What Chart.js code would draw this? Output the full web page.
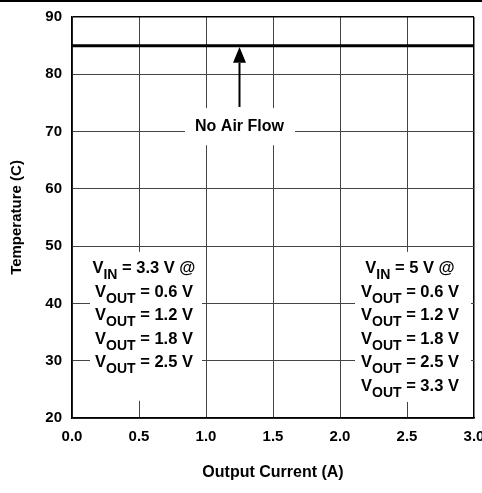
<!DOCTYPE html>
<html>
<head>
<meta charset="utf-8">
<script src="https://cdn.jsdelivr.net/npm/chart.js@4/dist/chart.umd.min.js"></script>
<style>
    html, body { margin: 0; padding: 0; background: #fff; }
    canvas { display: block; }
</style>
</head>
<body>
<canvas id="tempChart" width="482" height="493"></canvas>
<script>
// ticks
const xTicks = [0, 0.5, 1.0, 1.5, 2.0, 2.5, 3.0];
const xTickLabels = ['0.0', '0.5', '1.0', '1.5', '2.0', '2.5', '3.0'];
const yTicks = [20, 30, 40, 50, 60, 70, 80, 90];

// ambient temperature limit, no air flow (flat over the whole range)
const limitCurrent = [0, 3.0];
const limitTemp = [85, 85];

// arrow from the label up to the limit line
const arrowCurrent = [1.25, 1.25];
const arrowTemp = [74.3, 82];
const arrowTipTemp = 84.75;

// notes: [main, subscript, rest]
const noteNoAir = 'No Air Flow';
const notesVin33 = [
    ['V', 'IN', ' = 3.3 V @'],
    ['V', 'OUT', ' = 0.6 V'],
    ['V', 'OUT', ' = 1.2 V'],
    ['V', 'OUT', ' = 1.8 V'],
    ['V', 'OUT', ' = 2.5 V']
];
const notesVin5 = [
    ['V', 'IN', ' = 5 V @'],
    ['V', 'OUT', ' = 0.6 V'],
    ['V', 'OUT', ' = 1.2 V'],
    ['V', 'OUT', ' = 1.8 V'],
    ['V', 'OUT', ' = 2.5 V'],
    ['V', 'OUT', ' = 3.3 V']
];

const FONT = "'Liberation Sans', Arial, Helvetica, sans-serif";

// where the notes sit (data units) and the white box behind each one
const noteLayout = [
    { lines: notesVin33, x: 0.537, y: 45.3, box: [0.134, 0.97, 23, 49] },
    { lines: notesVin5, x: 2.522, y: 45.3, box: [2.112, 2.978, 22.8, 49] }
];
const noAirLayout = { x: 1.25, y: 70.1, box: [0.843, 1.664, 67.6, 74.1] };

const notePlugin = {
    id: 'notes',
    afterDatasetsDraw(chart) {
        const c = chart.ctx;
        const xs = chart.scales.x, ys = chart.scales.y;
        const px = v => xs.getPixelForValue(v);
        const py = v => ys.getPixelForValue(v);

        c.save();
        c.fillStyle = '#fff';
        [noAirLayout].concat(noteLayout).forEach(n => {
            const [x0, x1, y0, y1] = n.box;
            c.fillRect(px(x0), py(y1), px(x1) - px(x0), py(y0) - py(y1));
        });

        c.fillStyle = '#000';
        c.textBaseline = 'alphabetic';

        // No Air Flow
        c.font = 'bold 16px ' + FONT;
        c.textAlign = 'center';
        c.fillText(noteNoAir, px(noAirLayout.x), py(noAirLayout.y));

        // V_IN / V_OUT lists
        c.textAlign = 'left';
        noteLayout.forEach(n => {
            let base = py(n.y);
            n.lines.forEach(([main, sub, rest]) => {
                c.font = 'bold 16.5px ' + FONT;
                const wMain = c.measureText(main).width;
                const wRest = c.measureText(rest).width;
                c.font = 'bold 14px ' + FONT;
                const wSub = c.measureText(sub).width;
                let x = px(n.x) - (wMain + wSub + wRest) / 2;
                c.font = 'bold 16.5px ' + FONT;
                c.fillText(main, x, base);
                x += wMain;
                c.font = 'bold 14px ' + FONT;
                c.fillText(sub, x, base + 6);
                x += wSub;
                c.font = 'bold 16.5px ' + FONT;
                c.fillText(rest, x, base);
                base += 23.6;
            });
        });

        // arrow head
        const ax = px(arrowCurrent[1]);
        const tip = py(arrowTipTemp);
        const baseY = py(arrowTemp[1]);
        c.beginPath();
        c.moveTo(ax, tip);
        c.lineTo(ax - 6.5, baseY);
        c.lineTo(ax + 6.5, baseY);
        c.closePath();
        c.fill();
        c.restore();
    },
    afterDraw(chart) {
        // black rule along the top of the figure
        chart.ctx.save();
        chart.ctx.fillStyle = '#000';
        chart.ctx.fillRect(0, 0, chart.width, 2);
        chart.ctx.restore();
    }
};

const ctx = document.getElementById('tempChart').getContext('2d');

new Chart(ctx, {
    type: 'line',
    data: {
        datasets: [{
            data: limitCurrent.map((x, i) => ({ x: x, y: limitTemp[i] })),
            borderColor: '#000',
            borderWidth: 3,
            pointRadius: 0
        }, {
            data: arrowCurrent.map((x, i) => ({ x: x, y: arrowTemp[i] })),
            borderColor: '#000',
            borderWidth: 2,
            pointRadius: 0
        }]
    },
    options: {
        responsive: false,
        animation: false,
        layout: { padding: { top: 17, right: 8, left: 0, bottom: 0 } },
        plugins: {
            legend: { display: false },
            tooltip: { enabled: false }
        },
        scales: {
            x: {
                type: 'linear',
                min: 0,
                max: 3,
                afterBuildTicks: s => { s.ticks = xTicks.map(v => ({ value: v })); },
                afterFit: s => { s.height = 75; s.paddingLeft = 0; s.paddingRight = 0; },
                ticks: {
                    callback: (v, i) => xTickLabels[i],
                    color: '#000',
                    padding: 10,
                    maxRotation: 0,
                    font: { family: FONT, size: 15, weight: 'bold' }
                },
                grid: {
                    drawTicks: false,
                    color: c => c.tick && c.tick.value === 3 ? '#000' : '#444',
                    lineWidth: c => c.tick && c.tick.value === 3 ? 1.5 : 1
                },
                border: { color: '#000', width: 1.5 },
                title: {
                    display: true,
                    text: 'Output Current (A)',
                    color: '#000',
                    padding: { top: 4, bottom: 11 },
                    font: { family: FONT, size: 16, weight: 'bold' }
                }
            },
            y: {
                type: 'linear',
                min: 20,
                max: 90,
                afterBuildTicks: s => { s.ticks = yTicks.map(v => ({ value: v })); },
                afterFit: s => { s.width = 72; s.paddingTop = 0; s.paddingBottom = 0; },
                ticks: {
                    callback: v => String(v),
                    color: '#000',
                    padding: 10,
                    font: { family: FONT, size: 15, weight: 'bold' }
                },
                grid: {
                    drawTicks: false,
                    color: c => c.tick && c.tick.value === 90 ? '#000' : '#444',
                    lineWidth: c => c.tick && c.tick.value === 90 ? 1.5 : 1
                },
                border: { color: '#000', width: 1.5 },
                title: {
                    display: true,
                    text: 'Temperature (C)',
                    color: '#000',
                    padding: { top: 8, bottom: 0 },
                    font: { family: FONT, size: 15, weight: 'bold' }
                }
            }
        }
    },
    plugins: [notePlugin]
});
</script>
</body>
</html>
